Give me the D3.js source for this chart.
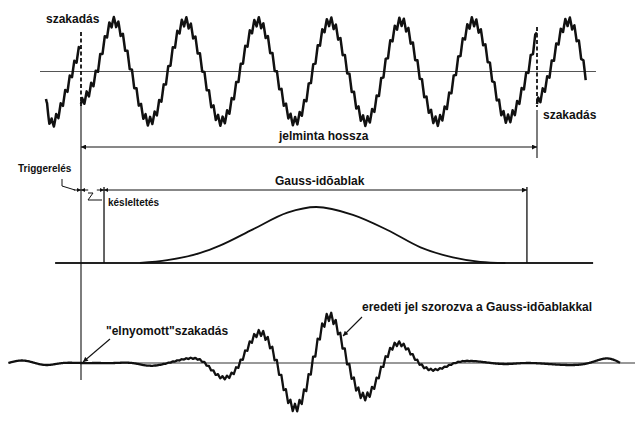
<!DOCTYPE html>
<html><head><meta charset="utf-8">
<script src="https://cdn.jsdelivr.net/npm/d3@7"></script>
<style>
body{margin:0;background:#fff}
svg{display:block}
text{font-family:"Liberation Sans",Arial,Helvetica,sans-serif;font-weight:bold;fill:#111}
</style>
</head><body>
<svg id="c" width="635" height="421"></svg>
<script>
// ---------------- data (time in ms, amplitude normalised) -------------
const recordLengthMs = 63.4;   // "jelminta hossza"
const triggerMs = 0;           // trigger instant
const delayMs = 3.2;           // start of the Gauss window (after "késleltetés")
const windowEndMs = 62.0;      // end of the Gauss window

// original signal: tail of the previous record, the record itself, start of the next record
const topBefore = [[-4.87,-0.55],[-3.7,-1.0],[-1.2,0],[0,0.52]];
const topRecord = [[0,-0.65],[2.2,0],[4.5,1.0],[7.0,0],[9.5,-1.0],[12.1,0],[14.5,1.0],[17.0,0],
  [19.5,-1.0],[22.1,0],[24.6,1.0],[27.1,0],[29.7,-1.0],[32.2,0],[34.6,1.0],[37.1,0],[39.6,-1.0],
  [42.1,0],[44.5,1.0],[47.0,0],[49.5,-1.0],[52.1,0],[54.5,1.0],[57.0,0],[59.4,-0.95],[62.1,0],[63.4,0.83]];
const topAfter = [[63.4,-0.65],[65.2,0],[67.7,1.0],[70.2,-0.1]];

// Gauss time window
const gaussWindow = [[8.2,0],[12.0,0.05],[16.6,0.18],[19.3,0.31],[23.9,0.6],[28.7,0.9],[32.7,1.0],
  [37.8,0.86],[42.6,0.59],[47.2,0.28],[51.7,0.1],[55.5,0.02],[59.0,0]];

// signal multiplied by the window
const product = [[-10.1,0],[-8.2,0.05],[-6.4,0],[-4.6,-0.04],[-2.5,0],[0,0],[2.3,0],[4.6,0],[7.1,0],
  [9.5,-0.055],[12.1,0],[14.9,0.09],[17.2,0],[19.6,-0.29],[22.1,0],[24.7,0.60],[27.2,0],[29.7,-0.90],
  [32.2,0],[34.6,0.93],[37.1,0],[39.6,-0.675],[42.1,0],[44.4,0.385],[47.0,0],[49.5,-0.13],[52.0,0],
  [54.4,0.04],[57.0,0],[59.4,-0.02],[62.2,0],[66.0,-0.03],[70.0,-0.02],[72.9,0.09],[75.0,0]];

// high-frequency ripple riding on the signal (one cycle)
const rippleShape = [0, 1, 0, -1, 0];
const ripplePeriodMs = 0.63;
const rippleAmp = 0.09;

// texts
const labelTexts = ["szakadás","szakadás","jelminta hossza","Triggerelés","Gauss-idõablak",
  "késleltetés","\"elnyomott\"szakadás","eredeti jel szorozva a Gauss-idõablakkal"];

// ---------------- drawing -------------
const svg = d3.select("#c");
const x = d3.scaleLinear().domain([0, recordLengthMs]).range([81, 537]);
const yTop = d3.scaleLinear().domain([-1, 1]).range([121.5, 21.5]);
const yWin = d3.scaleLinear().domain([0, 1]).range([263, 207]);
const yBot = d3.scaleLinear().domain([-1, 1]).range([413, 313]);

const defs = svg.append("defs");
defs.append("marker").attr("id","ah").attr("viewBox","0 0 10 10").attr("refX",10).attr("refY",5)
  .attr("markerUnits","userSpaceOnUse").attr("markerWidth",7).attr("markerHeight",5)
  .attr("orient","auto-start-reverse")
  .append("path").attr("d","M0,0L10,5L0,10Z").attr("fill","#111");
defs.append("marker").attr("id","ahs").attr("viewBox","0 0 10 10").attr("refX",10).attr("refY",5)
  .attr("markerUnits","userSpaceOnUse").attr("markerWidth",5).attr("markerHeight",4)
  .attr("orient","auto-start-reverse")
  .append("path").attr("d","M0,0L10,5L0,10Z").attr("fill","#111");

// lookup of a library curve drawn through the knots
const scratch = svg.append("g").attr("visibility","hidden");
function makeLookup(knots, curve, zeroOutside) {
  const p = scratch.append("path")
    .attr("d", d3.line().x(d => x(d[0])).y(d => -d[1]*50).curve(curve)(knots)).node();
  const L = p.getTotalLength(), n = Math.ceil(L/0.4);
  const pts = [];
  for (let i = 0; i <= n; i++) { const q = p.getPointAtLength(L*i/n); pts.push([q.x, -q.y/50]); }
  pts.sort((a,b) => a[0]-b[0]);
  const bis = d3.bisector(d => d[0]).left;
  const x0 = pts[0][0], x1 = pts[pts.length-1][0];
  return px => {
    if (zeroOutside && (px < x0 - 0.5 || px > x1 + 0.5)) return 0;
    const i = bis(pts, px);
    if (i <= 0) return pts[0][1];
    if (i >= pts.length) return pts[pts.length-1][1];
    const a = pts[i-1], b = pts[i];
    const f = b[0] === a[0] ? 0 : (px-a[0])/(b[0]-a[0]);
    return a[1] + (b[1]-a[1])*f;
  };
}
const rippleAt = d3.scaleLinear()
  .domain(rippleShape.map((d,i) => i/(rippleShape.length-1))).range(rippleShape);
function ripple(t, t0) {
  const ph = (((t - t0) % ripplePeriodMs) + ripplePeriodMs) % ripplePeriodMs / ripplePeriodMs;
  return rippleAt(ph) * rippleAmp;
}
function rippled(knots, env) {
  const base = makeLookup(knots, d3.curveNatural, false);
  const t0 = knots[0][0], t1 = knots[knots.length-1][0];
  const dt = ripplePeriodMs/8, pts = [];
  for (let t = t0; t <= t1 + 1e-9; t += dt) {
    const px = x(t);
    pts.push([t, base(px) + ripple(t, t0) * (env ? env(px) : 1)]);
  }
  return pts;
}
const winLookup = makeLookup(gaussWindow, d3.curveMonotoneX, true);

const ink = "#111";
// baselines
svg.append("line").attr("x1",x(-5.7)).attr("x2",x(71.6)).attr("y1",yTop(0)).attr("y2",yTop(0))
  .attr("stroke","#555").attr("stroke-width",1.1);
svg.append("line").attr("x1",x(-3.6)).attr("x2",x(71.2)).attr("y1",yWin(0)).attr("y2",yWin(0))
  .attr("stroke","#222").attr("stroke-width",1.8);
svg.append("line").attr("x1",x(-0.8)).attr("x2",x(77.1)).attr("y1",yBot(0)).attr("y2",yBot(0))
  .attr("stroke","#333").attr("stroke-width",1);

// vertical reference lines
svg.append("line").attr("x1",x(triggerMs)).attr("x2",x(triggerMs)).attr("y1",105).attr("y2",380)
  .attr("stroke",ink).attr("stroke-width",1.1);
svg.append("line").attr("x1",x(recordLengthMs)).attr("x2",x(recordLengthMs)).attr("y1",110).attr("y2",158)
  .attr("stroke",ink).attr("stroke-width",1.1);
[delayMs, windowEndMs].forEach(t => svg.append("line").attr("x1",x(t)).attr("x2",x(t))
  .attr("y1",187).attr("y2",yWin(0)).attr("stroke",ink).attr("stroke-width",1.3));
// dashed discontinuities
svg.append("line").attr("x1",x(triggerMs)).attr("x2",x(triggerMs)).attr("y1",32).attr("y2",106)
  .attr("stroke",ink).attr("stroke-width",1.8).attr("stroke-dasharray","4,2.5");
svg.append("line").attr("x1",x(recordLengthMs)).attr("x2",x(recordLengthMs)).attr("y1",27).attr("y2",107)
  .attr("stroke",ink).attr("stroke-width",1.8).attr("stroke-dasharray","4,2.5");

// dimension lines
svg.append("line").attr("x1",x(0)).attr("x2",x(recordLengthMs)).attr("y1",147).attr("y2",147)
  .attr("stroke",ink).attr("stroke-width",1).attr("marker-start","url(#ah)").attr("marker-end","url(#ah)");
svg.append("line").attr("x1",x(delayMs)).attr("x2",x(windowEndMs)).attr("y1",190).attr("y2",190)
  .attr("stroke",ink).attr("stroke-width",1).attr("marker-start","url(#ahs)").attr("marker-end","url(#ah)");
[[-1.0, triggerMs],[1.0, triggerMs],[delayMs-1.0, delayMs]].forEach(([a,b]) =>
  svg.append("line").attr("x1",x(a)).attr("x2",x(b)).attr("y1",190).attr("y2",190)
    .attr("stroke",ink).attr("stroke-width",1).attr("marker-end","url(#ahs)"));

// leaders
svg.append("polyline").attr("points","62,179 62,186 75,190").attr("fill","none").attr("stroke",ink).attr("stroke-width",1);
svg.append("polyline").attr("points","88,193 93,193 88,200 102,200").attr("fill","none").attr("stroke",ink).attr("stroke-width",1);
svg.append("line").attr("x1",110).attr("y1",339).attr("x2",x(triggerMs)+2).attr("y2",yBot(0)-1)
  .attr("stroke",ink).attr("stroke-width",1.1).attr("marker-end","url(#ah)");
svg.append("line").attr("x1",362).attr("y1",317).attr("x2",343).attr("y2",336)
  .attr("stroke",ink).attr("stroke-width",1.1).attr("marker-end","url(#ah)");

// signals
const lineTop = d3.line().x(d => x(d[0])).y(d => yTop(d[1]));
const lineBot = d3.line().x(d => x(d[0])).y(d => yBot(d[1]));
[topBefore, topRecord, topAfter].forEach(k => svg.append("path").attr("d", lineTop(rippled(k)))
  .attr("fill","none").attr("stroke",ink).attr("stroke-width",2.5).attr("stroke-linejoin","round"));
svg.append("path").attr("d", d3.line().x(d => x(d[0])).y(d => yWin(d[1])).curve(d3.curveMonotoneX)(gaussWindow))
  .attr("fill","none").attr("stroke",ink).attr("stroke-width",1.8);
svg.append("path").attr("d", lineBot(rippled(product, winLookup)))
  .attr("fill","none").attr("stroke",ink).attr("stroke-width",2.3).attr("stroke-linejoin","round");
scratch.remove();

// labels
const labelPos = [[46,23,12],[543,119,12],[279,140,12],[18,172,10],[275,185,12],[108,206,10],[106,335,12],[362,311,12]];
labelTexts.forEach((s,i) => svg.append("text").attr("x",labelPos[i][0]).attr("y",labelPos[i][1])
  .attr("font-size",labelPos[i][2]).text(s));
</script>
</body></html>
